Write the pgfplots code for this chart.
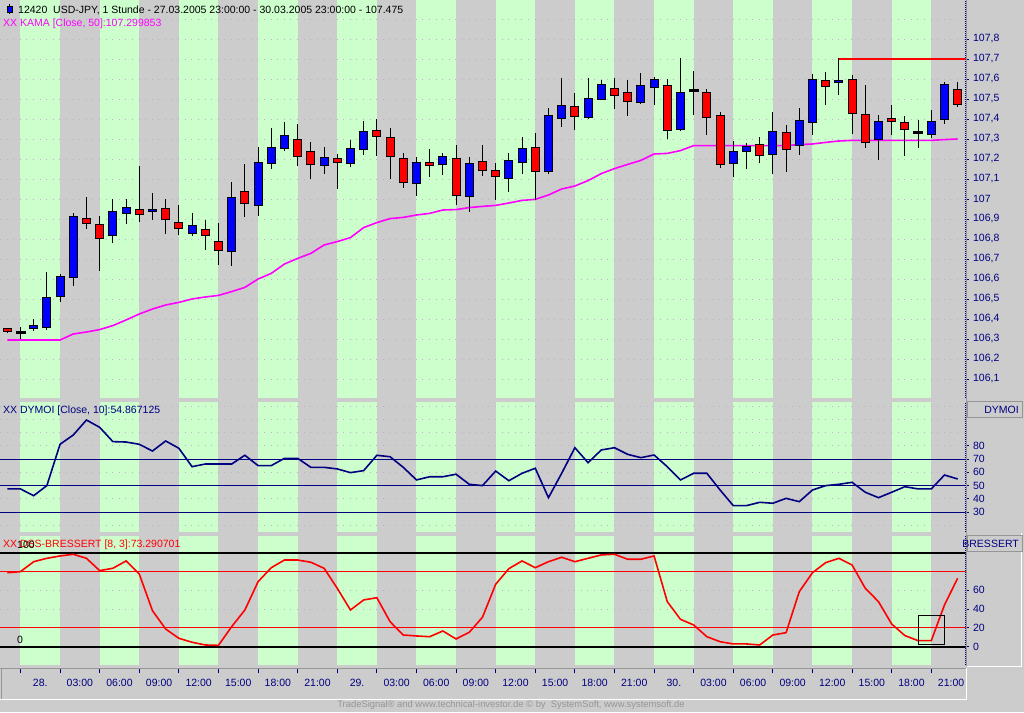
\documentclass[border=0pt]{standalone}
\usepackage{pgfplots}
\pgfplotsset{compat=1.18}
\usepackage{pgfplotstable}
\usepackage{fontspec}
\setmainfont{Liberation Sans}
\definecolor{bgray}{RGB}{204,204,204}
\definecolor{lgreen}{RGB}{204,255,204}
\definecolor{navy}{RGB}{0,0,128}
\definecolor{gridc}{RGB}{190,175,200}
\definecolor{kamac}{RGB}{255,0,255}
\definecolor{footc}{RGB}{150,150,150}
\definecolor{dgray}{RGB}{150,150,150}
\pgfdeclareplotmark{nothing}{}
\newcommand{\fs}{\fontsize{10.5}{12}\selectfont}
\newcommand{\stripes}[2]{%
  \fill[lgreen] (axis cs:0,#1) rectangle (axis cs:3,#2);
  \fill[lgreen] (axis cs:6,#1) rectangle (axis cs:9,#2);
  \fill[lgreen] (axis cs:12,#1) rectangle (axis cs:15,#2);
  \fill[lgreen] (axis cs:18,#1) rectangle (axis cs:21,#2);
  \fill[lgreen] (axis cs:24,#1) rectangle (axis cs:27,#2);
  \fill[lgreen] (axis cs:30,#1) rectangle (axis cs:33,#2);
  \fill[lgreen] (axis cs:36,#1) rectangle (axis cs:39,#2);
  \fill[lgreen] (axis cs:42,#1) rectangle (axis cs:45,#2);
  \fill[lgreen] (axis cs:48,#1) rectangle (axis cs:51,#2);
  \fill[lgreen] (axis cs:54,#1) rectangle (axis cs:57,#2);
  \fill[lgreen] (axis cs:60,#1) rectangle (axis cs:63,#2);
  \fill[lgreen] (axis cs:66,#1) rectangle (axis cs:69,#2);
}

\pgfplotstableread{
h O H L C
-1 106.353 106.355 106.330 106.336
0 106.336 106.360 106.300 106.336
1 106.352 106.398 106.342 106.368
2 106.357 106.635 106.346 106.508
3 106.513 106.624 106.487 106.613
4 106.607 106.930 106.565 106.913
5 106.904 107.010 106.850 106.877
6 106.873 106.915 106.642 106.802
7 106.817 107.000 106.782 106.938
8 106.927 107.000 106.877 106.958
9 106.948 107.167 106.886 106.923
10 106.937 107.028 106.895 106.948
11 106.953 107.000 106.825 106.897
12 106.883 106.970 106.820 106.853
13 106.827 106.930 106.815 106.868
14 106.848 106.895 106.745 106.817
15 106.788 106.880 106.672 106.742
16 106.737 107.083 106.667 107.008
17 107.039 107.175 106.912 106.979
18 106.967 107.260 106.917 107.183
19 107.177 107.355 107.152 107.255
20 107.253 107.385 107.242 107.315
21 107.298 107.375 107.167 107.213
22 107.238 107.285 107.102 107.173
23 107.168 107.260 107.127 107.208
24 107.203 107.225 107.052 107.183
25 107.178 107.295 107.162 107.253
26 107.247 107.388 107.222 107.338
27 107.340 107.400 107.217 107.312
28 107.305 107.357 107.100 107.213
29 107.203 107.228 107.057 107.083
30 107.078 107.208 107.017 107.183
31 107.180 107.250 107.110 107.168
32 107.173 107.230 107.122 107.210
33 107.203 107.270 106.970 107.017
34 107.012 107.210 106.937 107.175
35 107.185 107.270 107.115 107.143
36 107.143 107.180 106.995 107.113
37 107.102 107.230 107.035 107.190
38 107.183 107.310 107.125 107.253
39 107.258 107.330 106.995 107.138
40 107.138 107.453 107.123 107.418
41 107.403 107.605 107.362 107.468
42 107.463 107.528 107.347 107.413
43 107.407 107.605 107.402 107.503
44 107.498 107.595 107.495 107.573
45 107.553 107.605 107.452 107.518
46 107.533 107.595 107.417 107.488
47 107.483 107.630 107.473 107.568
48 107.558 107.608 107.468 107.598
49 107.568 107.598 107.298 107.343
50 107.348 107.703 107.338 107.533
51 107.542 107.640 107.420 107.542
52 107.533 107.548 107.320 107.408
53 107.418 107.433 107.157 107.173
54 107.178 107.288 107.108 107.238
55 107.238 107.278 107.148 107.260
56 107.273 107.310 107.178 107.218
57 107.223 107.435 107.123 107.338
58 107.333 107.368 107.137 107.248
59 107.268 107.453 107.222 107.393
60 107.383 107.623 107.322 107.598
61 107.593 107.633 107.468 107.563
62 107.583 107.703 107.518 107.593
63 107.598 107.618 107.327 107.427
64 107.423 107.568 107.257 107.282
65 107.298 107.418 107.197 107.388
66 107.400 107.468 107.318 107.388
67 107.383 107.413 107.217 107.348
68 107.335 107.395 107.257 107.335
69 107.323 107.447 107.307 107.388
70 107.398 107.583 107.377 107.573
71 107.548 107.583 107.458 107.473
}\candles

\pgfplotstableread{
h k
-1 106.295
0 106.295
1 106.295
2 106.295
3 106.295
4 106.325
5 106.335
6 106.347
7 106.367
8 106.395
9 106.425
10 106.450
11 106.470
12 106.483
13 106.500
14 106.510
15 106.518
16 106.537
17 106.558
18 106.600
19 106.628
20 106.675
21 106.703
22 106.728
23 106.770
24 106.787
25 106.807
26 106.857
27 106.882
28 106.902
29 106.908
30 106.920
31 106.928
32 106.945
33 106.947
34 106.957
35 106.963
36 106.968
37 106.980
38 106.993
39 106.998
40 107.020
41 107.050
42 107.065
43 107.092
44 107.127
45 107.152
46 107.173
47 107.193
48 107.225
49 107.228
50 107.242
51 107.267
52 107.267
53 107.267
54 107.267
55 107.267
56 107.267
57 107.267
58 107.267
59 107.272
60 107.275
61 107.283
62 107.290
63 107.293
64 107.293
65 107.293
66 107.293
67 107.293
68 107.293
69 107.293
70 107.297
71 107.300
}\kamatab

\pgfplotstableread{
h v
-1 47.4
0 47.4
1 42.3
2 49.9
3 81.1
4 88.1
5 99.4
6 93.9
7 83.1
8 82.8
9 81.1
10 76.0
11 83.6
12 78.1
13 64.2
14 66.2
15 66.2
16 66.2
17 72.8
18 65.0
19 65.0
20 70.5
21 70.5
22 63.7
23 63.7
24 62.5
25 59.7
26 61.2
27 72.8
28 71.7
29 63.7
30 54.2
31 56.6
32 56.6
33 58.5
34 50.9
35 49.9
36 60.9
37 53.6
38 59.2
39 63.0
40 40.8
41 59.2
42 78.5
43 67.2
44 76.8
45 78.5
46 73.5
47 71.0
48 73.0
49 64.2
50 54.2
51 59.2
52 59.2
53 46.6
54 34.8
55 34.8
56 37.3
57 36.6
58 40.3
59 37.8
60 46.6
61 49.9
62 50.9
63 52.4
64 44.9
65 40.8
66 44.9
67 49.1
68 47.4
69 47.4
70 57.9
71 54.9
}\dymoi

\pgfplotstableread{
h v
-1 78.7
0 79.8
1 90.4
2 94.0
3 96.5
4 98.3
5 94.0
6 80.9
7 83.4
8 91.2
9 77.3
10 38.3
11 18.8
12 8.9
13 4.7
14 1.8
15 1.4
16 21.3
17 39.0
18 69.1
19 84.0
20 92.2
21 92.2
22 89.8
23 83.4
24 62.1
25 39.0
26 49.7
27 52.1
28 26.6
29 12.4
30 11.4
31 10.6
32 16.7
33 8.2
34 15.3
35 31.3
36 66.4
37 83.0
38 91.2
39 84.0
40 90.4
41 95.1
42 90.4
43 94.0
44 97.6
45 98.3
46 93.0
47 93.0
48 96.5
49 47.9
50 29.1
51 23.1
52 10.6
53 5.3
54 2.9
55 2.9
56 1.8
57 12.4
58 14.9
59 58.5
60 78.7
61 89.4
62 94.0
63 86.9
64 62.1
65 47.9
66 24.1
67 11.8
68 6.4
69 6.4
70 44.4
71 72.8
}\dss

\pgfplotsset{
  panel/.style={
    anchor=south west, x=13.2pt, xmin=-1.55, xmax=71.6,
    axis x line=none, axis y line*=right,
    y axis line style={navy, line width=0.8pt, dash pattern=on 1pt off 1pt},
    ytick style={navy, line width=0.8pt},
    major tick length=3pt, tick align=outside,
    yticklabel style={text=navy, font=\fs, xshift=1pt, /pgf/number format/assume math mode=true},
    scaled y ticks=false,
  }
}

\begin{document}
\begin{tikzpicture}[x=1pt,y=1pt]
\fill[bgray] (0,0) rectangle (1024,712);

% ---------------- price panel ----------------
\begin{axis}[panel, at={(0pt,314pt)}, y=200pt, ymin=106.005, ymax=107.995,
  ytick={106.1,106.2,106.3,106.4,106.5,106.6,106.7,106.8,106.9,107,107.1,107.2,107.3,107.4,107.5,107.6,107.7,107.8},
  yticklabel style={/pgf/number format/.cd, fixed, precision=1, use comma}]
\stripes{106.005}{107.995}
\pgfplotsinvokeforeach{106.1,106.2,...,107.9}{\draw[gridc, line width=0.8pt, dash pattern=on 1pt off 5.6pt] (axis cs:-1.55,#1) -- (axis cs:71.6,#1);}
\addplot[scatter, only marks, mark=nothing,
  visualization depends on={200*(\thisrow{C}-\thisrow{O}) \as \bh},
  visualization depends on={200*(\thisrow{H}-\thisrow{O}) \as \wh},
  visualization depends on={200*(\thisrow{L}-\thisrow{O}) \as \wl},
  scatter/@pre marker code/.code={%
    \draw[black, line width=1pt] (0pt,\wl pt) -- (0pt,\wh pt);
    \ifdim\bh pt>0.2pt
      \filldraw[fill=blue, draw=black, line width=1pt] (-4pt,0pt) rectangle (4pt,\bh pt);
    \else\ifdim\bh pt<-0.2pt
      \filldraw[fill=red, draw=black, line width=1pt] (-4pt,0pt) rectangle (4pt,\bh pt);
    \else
      \fill[black] (-4.5pt,-1pt) rectangle (4.5pt,1pt);
    \fi\fi},
  scatter/@post marker code/.code={}]
  table[x=h, y=O] {\candles};
\addplot[kamac, line width=1.6pt] table[x=h, y=k] {\kamatab};
\addplot[color=red, line width=1.1pt] coordinates {(62,107.7) (71.6,107.7)};
\end{axis}

% ---------------- DYMOI panel ----------------
\begin{axis}[panel, at={(0pt,180pt)}, y=1.325pt, ymin=14.9, ymax=113,
  ytick={30,40,50,60,70,80}]
\stripes{14.9}{113}
\pgfplotsinvokeforeach{20,40,60,80,90,100,110}{\draw[gridc, line width=0.8pt, dash pattern=on 1pt off 5.6pt] (axis cs:-1.55,#1) -- (axis cs:71.6,#1);}
\pgfplotsinvokeforeach{30,50,70}{\draw[navy, line width=0.9pt] (axis cs:-1.55,#1) -- (axis cs:71.6,#1);}
\addplot[navy, line width=1.6pt] table[x=h, y=v] {\dymoi};
\end{axis}

% ---------------- DSS panel ----------------
\begin{axis}[panel, at={(0pt,47pt)}, y=0.94pt, ymin=-19.5, ymax=117.8,
  ytick={0,20,40,60}]
\stripes{-19.5}{117.8}
\pgfplotsinvokeforeach{40,60}{\draw[gridc, line width=0.8pt, dash pattern=on 1pt off 5.6pt] (axis cs:-1.55,#1) -- (axis cs:71.6,#1);}
\pgfplotsinvokeforeach{20,80}{\draw[red, line width=0.9pt] (axis cs:-1.55,#1) -- (axis cs:71.6,#1);}
\pgfplotsinvokeforeach{0,100}{\draw[black, line width=2pt] (axis cs:-1.55,#1) -- (axis cs:71.6,#1);}
\addplot[red, line width=1.6pt] table[x=h, y=v] {\dss};
\draw[black, line width=0.9pt] (axis cs:68,2.6) rectangle (axis cs:70,33);
\end{axis}

% ---------------- time axis ----------------
\begin{axis}[anchor=south west, at={(0pt,38.7pt)}, x=13.2pt, y=4pt,
  xmin=-1.55, xmax=71.6, ymin=0, ymax=1,
  axis x line*=bottom, axis y line=none, x axis line style={draw=none},
  xtick={1.5,4.5,7.5,10.5,13.5,16.5,19.5,22.5,25.5,28.5,31.5,34.5,37.5,40.5,43.5,46.5,49.5,52.5,55.5,58.5,61.5,64.5,67.5,70.5},
  xticklabels={28.,03:00,06:00,09:00,12:00,15:00,18:00,21:00,29.,03:00,06:00,09:00,12:00,15:00,18:00,21:00,30.,03:00,06:00,09:00,12:00,15:00,18:00,21:00},
  major tick length=0pt,
  minor xtick={0,3,...,69}, minor tick length=4pt, tick align=inside,
  minor x tick style={navy, line width=0.8pt},
  xticklabel style={text=navy, font=\fs, yshift=-2.5pt}]
\addplot[draw=none, forget plot] coordinates {(0,0.5)};
\end{axis}

% ---------------- frames ----------------
\draw[dgray, line width=0.8pt] (966.5,46) -- (966.5,712);
\draw[dgray, line width=0.8pt] (0,44) -- (966,44);
\draw[dgray, line width=0.8pt] (1,13) -- (1,44);
\draw[white, line width=0.8pt] (0,13) -- (966,13) -- (966,44);
\draw[white, line width=0.8pt] (967,46) -- (1021.5,46) -- (1021.5,179);
\filldraw[fill=bgray, draw=dgray, line width=0.8pt] (967,295) rectangle (1022,310.5);
\filldraw[fill=bgray, draw=dgray, line width=0.8pt] (967,160.3) rectangle (1022,177);
\node[anchor=east, inner sep=0, text=navy, font=\fs] at (1019,302.5) {DYMOI};
\node[anchor=east, inner sep=0, text=navy, font=\fs] at (1019,168.5) {BRESSERT};

% ---------------- titles ----------------
\draw[black, line width=0.8pt] (9.5,698) -- (9.5,707.5);
\filldraw[fill=blue, draw=black, line width=0.8pt] (7,700) rectangle (12,705.5);
\node[anchor=west, inner sep=0, font=\fs] at (18,702) {12420\ \ USD-JPY, 1 Stunde - 27.03.2005 23:00:00 - 30.03.2005 23:00:00 - 107.475};
\node[anchor=west, inner sep=0, font=\fs, text=kamac] at (3,688.5) {XX KAMA [Close, 50]:107.299853};
\node[anchor=west, inner sep=0, font=\fs, text=navy] at (3,301.3) {XX DYMOI [Close, 10]:54.867125};
\node[anchor=west, inner sep=0, font=\fs, text=red] at (3,167) {XX DSS-BRESSERT [8, 3]:73.290701};
\node[anchor=west, inner sep=0, font=\fs, text=black] at (17,167) {100};
\node[anchor=west, inner sep=0, font=\fs, text=black] at (17,72.5) {0};
\node[inner sep=0, font=\fontsize{9.4}{11}\selectfont, text=footc] at (511,6.5) {TradeSignal® and www.technical-investor.de © by\ \ SystemSoft, www.systemsoft.de};

\pgfresetboundingbox
\useasboundingbox (0,0) rectangle (1024,712);
\end{tikzpicture}
\end{document}
